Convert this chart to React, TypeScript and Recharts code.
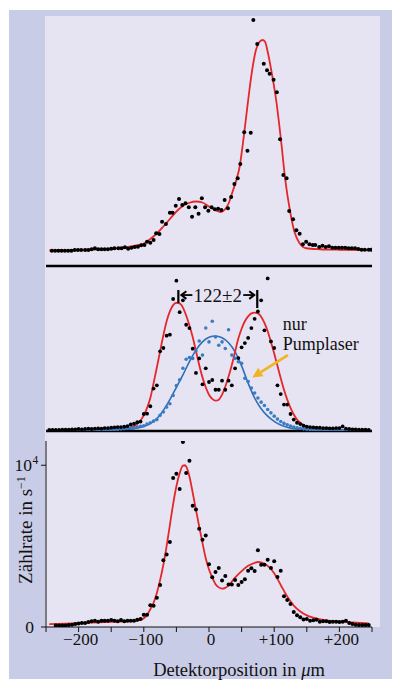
import React from 'react';
import { ComposedChart, Line, Scatter, XAxis, YAxis, ReferenceLine, Label } from 'recharts';

const FONT = '"Liberation Serif", "Times New Roman", serif';
const INK = '#111';
const RED = '#e5262a';
const BLUE = '#2f6fb8';
const BLUE_DOT = '#3a7cc4';
const ORANGE = '#f0b425';

// ---- upper panel (arbitrary units 0..100) ----
const TOP_DOT_X = [
  -241, -236, -231, -226, -221, -216, -211, -206, -201, -196, -190, -185, -180, -175, -170, -165,
  -160, -155, -150, -145, -139, -134, -129, -124, -119, -114, -109, -104, -99, -95, -90, -85,
  -81, -76, -72, -66, -60, -56, -51, -46, -41, -36, -31, -26, -21, -16, -11, -6,
  -1, 4, 9, 14, 19, 24, 29, 34, 39, 44, 48, 54, 59, 64, 68, 74,
  84, 89, 93, 99, 104, 109, 114, 119, 123, 129, 134, 139, 144, 149, 154, 159,
  163, 169, 174, 179, 184, 189, 194, 199, 204, 209, 214, 219, 224, 229, 234, 239, 245, 249,
];
const TOP_DOT_Y = [
  6.1, 6.1, 6.1, 6.1, 6.1, 6.1, 6.1, 6.4, 6.4, 6.4, 6.4, 6.4, 6.7, 7.1, 6.7, 6.7,
  6.7, 6.7, 6.9, 7.1, 7.1, 7.1, 7.5, 6.9, 7.3, 7.6, 7.7, 8.3, 8.4, 9.7, 9.3, 10.4,
  13.1, 12.8, 17.7, 16.8, 21.3, 21.3, 24.1, 26.8, 24.4, 25.1, 23.5, 19.7, 23.5, 20.9, 27.1, 23.5,
  22.1, 23.5, 22.7, 22.9, 22.4, 26.4, 23.1, 27.6, 32.8, 35.1, 40.8, 53.5, 46.1, 53.3, 98.4, 88.8,
  80.9, 78.3, 76.9, 74.5, 69.5, 50.7, 36.4, 35.1, 22.0, 18.7, 14.3, 12.9, 8.7, 9.7, 8.7, 8.4,
  8.4, 7.6, 8.1, 7.6, 7.9, 7.3, 7.3, 7.3, 7.3, 7.3, 7.1, 7.1, 7.1, 6.8, 6.5, 6.5, 6.5, 6.5,
];
const TOP_FIT_X = [
  -245, -200, -160, -130, -110, -100, -90, -80, -70, -60, -50, -40, -30, -20, -10, 0, 10, 18, 25, 30,
  37, 42, 47, 52, 57, 62, 67, 72, 77, 82, 86, 90, 95, 103, 111, 117, 124, 131, 139, 149, 170, 200, 249,
];
const TOP_FIT_Y = [
  6.2, 6.4, 6.8, 7.4, 8.3, 9.0, 10.8, 13.0, 15.8, 18.8, 21.8, 24.0, 25.3, 25.8, 25.4, 23.8, 22.3, 21.6, 22.8, 25.0,
  30.4, 34.4, 39.7, 49.0, 59.7, 70.4, 79.7, 86.4, 89.5, 90.4, 89.7, 85.7, 79.0, 66.4, 49.0, 34.4, 22.4, 13.7, 9.1, 7.1, 6.7, 6.5, 6.4,
];

// ---- middle panel (arbitrary units 0..100), detector steps of 5 µm from -245 ----
const MID_START = -245;
const MID_STEP = 5;
const MID_BOTH = [
  0.6, 0.6, 0.6, 0.6, 0.8, 0.8, 0.8, 1.0, 1.0, 1.2, 1.0, 1.2, 1.4, 1.2, 1.4, 1.6, 1.4, 1.8, 1.8, 2.0,
  2.2, 2.4, 2.4, 2.6, 3.0, 4.0, 4.4, 5.3, 5.7, 10.3, 10.5, 15, 25.7, 27.7, 48.3, 50.3, 57.8, 58.4, 80, 91.1,
  72, 79.2, 64.4, 62.4, 49.9, 35.2, 44, 28.3, 38, 29.7, 30.9, 25, 25, 30.5, 25, 30.5, 27.7, 38, 44.2, 50.7,
  53.3, 56.4, 62.4, 68, 72.5, 79.2, 61, 92.5, 54.3, 50.3, 27.7, 22.4, 16, 16, 10.3, 6.9, 5, 4.2, 3.2, 2.6,
  2.4, 2.2, 2.0, 2.0, 1.8, 1.8, 1.6, 1.6, 1.8, 1.8, 2.8, 1.4, 1.2, 1.0, 1.0, 0.8, 0.8, 0.8, 0.6,
];
const MID_PUMP = [
  0.2, 0.2, 0.2, 0.2, 0.3, 0.3, 0.2, 0.3, 0.3, 0.3, 0.3, 0.4, 0.4, 0.4, 0.5, 0.5, 0.6, 0.6, 0.7, 0.8,
  0.9, 1.0, 1.2, 1.4, 1.6, 1.8, 2.0, 2.4, 2.8, 3.2, 4.2, 5.0, 6.0, 6.9, 9.5, 11.5, 14.5, 16.5, 21.5, 27.5,
  31, 38, 43.5, 44.5, 44, 48.5, 54.5, 46, 62.4, 54, 66.5, 57, 52, 54, 50, 61.4, 46, 44, 42, 41,
  32, 30, 26, 23, 20, 17.5, 15.5, 13, 11, 9, 7.2, 5.8, 4.6, 3.8, 3.0, 2.4, 2.0, 1.6, 1.3, 1.1,
  0.9, 0.8, 0.7, 0.6, 0.5, 0.5, 0.4, 0.4, 0.4, 0.3, 0.3, 0.3, 0.3, 0.2, 0.2, 0.2, 0.2, 0.2, 0.2,
];
const MID_FIT_X = [
  -245, -200, -160, -140, -130, -120, -110, -100, -95, -90, -85, -80, -75, -70, -65, -60, -55, -50, -45, -40,
  -35, -30, -25, -20, -15, -10, -5, 0, 5, 10, 15, 20, 25, 30, 35, 40, 45, 50, 55, 60,
  65, 70, 75, 80, 85, 90, 95, 100, 105, 110, 115, 120, 125, 130, 135, 140, 150, 160, 175, 200, 245,
];
const MID_FIT_Y = [
  0.4, 0.5, 0.6, 0.8, 1.2, 2.2, 4.2, 9.5, 14, 20, 29, 38.5, 48.3, 58, 66.5, 72.5, 76.3, 77.6, 77.3, 74.8,
  70, 64, 57, 48.5, 40, 32.5, 26.5, 22, 19.5, 18.4, 19, 22, 27, 33, 40, 48, 56, 62, 66.5, 69.5,
  71.3, 71.8, 71.3, 69.3, 65.5, 60.5, 54, 47, 39.5, 32, 25, 19, 14, 10, 7, 5, 2.6, 1.5, 0.9, 0.6, 0.4,
];
const PUMP_FIT_X = [
  -245, -160, -130, -110, -100, -90, -80, -70, -60, -50, -40, -30, -20, -10, 0, 10, 20, 30, 40, 50,
  60, 70, 80, 90, 100, 110, 120, 140, 170, 245,
];
const PUMP_FIT_Y = [
  0.2, 0.3, 0.8, 1.8, 2.8, 4.5, 7.5, 12.5, 19, 26.5, 34, 42, 49, 54, 56.8, 57.6, 56.5, 53.5, 48, 39.5,
  29, 20, 13.5, 9, 5.8, 3.6, 2.3, 1.0, 0.4, 0.2,
];
const PEAK_LEFT = -47;
const PEAK_RIGHT = 74;
const SPACING_LABEL = '122±2';

// ---- lower panel (counts per second), detector steps of 5 µm from -235 ----
const BOT_START = -235;
const BOT_STEP = 5;
const BOT_RATE = [
  100, 100, 100, 100, 120, 140, 190, 210, 250, 250, 310, 350, 390, 330, 390, 390, 390, 430, 390, 350,
  430, 350, 390, 390, 390, 450, 500, 760, 760, 1340, 1320, 1810, 2600, 4120, 4490, 5260, 9210, 9480, 8530, 11440,
  9520, 10280, 7500, 7260, 6080, 5400, 5650, 3880, 3070, 3400, 3650, 2870, 3150, 2620, 2620, 2910, 2600, 2780, 2950, 3480,
  3630, 3460, 4740, 3850, 3850, 4160, 3650, 4060, 3090, 3480, 1900, 1670, 1420, 930, 720, 600, 470, 500, 390, 410,
  450, 330, 350, 350, 310, 330, 330, 310, 330, 390, 250, 190, 140, 120, 120, 120, 120,
];
const BOT_FIT_X = [
  -245, -220, -200, -180, -160, -140, -120, -110, -105, -100, -95, -90, -85, -80, -75, -70, -65, -60, -55, -50,
  -45, -40, -37, -35, -30, -25, -20, -15, -10, -5, 0, 5, 10, 15, 20, 25, 30, 40, 50, 60,
  70, 75, 80, 90, 100, 110, 120, 130, 140, 150, 160, 180, 200, 220, 245,
];
const BOT_FIT_Y = [
  180, 210, 240, 270, 300, 330, 360, 400, 440, 540, 750, 1100, 1500, 2100, 2900, 3850, 5000, 6300, 7600, 8700,
  9500, 9980, 10000, 9920, 9300, 8300, 7250, 6200, 5200, 4250, 3550, 3050, 2650, 2450, 2370, 2420, 2580, 3050, 3450, 3780,
  3970, 4020, 3990, 3780, 3320, 2600, 1880, 1320, 960, 720, 580, 410, 330, 280, 230,
];

const X_TICKS = [-250, -200, -150, -100, -50, 0, 50, 100, 150, 200, 250];
const X_LABELS: Record<string, string> = { '-200': '−200', '-100': '−100', '0': '0', '100': '+100', '200': '+200' };
const Y_TICKS = [0, 10000];

const pairs = (xs: number[], ys: number[]) => xs.map((x, i) => ({ x, y: ys[i] }));
const onGrid = (start: number, step: number, ys: number[]) => ys.map((y, i) => ({ x: start + i * step, y }));

const topDots = pairs(TOP_DOT_X, TOP_DOT_Y);
const topFit = pairs(TOP_FIT_X, TOP_FIT_Y);
const midBoth = onGrid(MID_START, MID_STEP, MID_BOTH);
const midPump = onGrid(MID_START, MID_STEP, MID_PUMP);
const midFit = pairs(MID_FIT_X, MID_FIT_Y);
const pumpFit = pairs(PUMP_FIT_X, PUMP_FIT_Y);
const botDots = onGrid(BOT_START, BOT_STEP, BOT_RATE);
const botFit = pairs(BOT_FIT_X, BOT_FIT_Y);

const dot = (r: number, fill: string) => (p: any) => <circle cx={p.cx} cy={p.cy} r={r} fill={fill} />;

const W = 396;
const MARGIN_X = { left: 46, right: 24 };

// |<- 122±2 ->| marker between the two peaks
const SpacingMark = (p: any) => {
  const { x1, x2, y1: y } = p;
  const mid = (x1 + x2) / 2;
  return (
    <g>
      <line x1={x1} x2={x1} y1={y - 5} y2={y + 8} stroke="#000" strokeWidth={2.2} />
      <line x1={x2} x2={x2} y1={y - 5} y2={y + 13} stroke="#000" strokeWidth={2.2} />
      <line x1={x1 + 3} x2={x1 + 14} y1={y} y2={y} stroke="#000" strokeWidth={1.8} />
      <polyline points={`${x1 + 8},${y - 3.8} ${x1 + 3},${y} ${x1 + 8},${y + 3.8}`} fill="none" stroke="#000" strokeWidth={2} />
      <line x1={x2 - 14} x2={x2 - 3} y1={y} y2={y} stroke="#000" strokeWidth={1.8} />
      <polyline points={`${x2 - 8},${y - 3.8} ${x2 - 3},${y} ${x2 - 8},${y + 3.8}`} fill="none" stroke="#000" strokeWidth={2} />
      <text x={mid} y={y + 6.5} textAnchor="middle" fontFamily={FONT} fontSize={19} fill={INK}>{SPACING_LABEL}</text>
    </g>
  );
};

const PumpArrow = (p: any) => {
  const { x1, y1, x2, y2 } = p;
  const dx = x2 - x1;
  const dy = y2 - y1;
  const len = Math.hypot(dx, dy);
  const ux = dx / len;
  const uy = dy / len;
  const bx = x2 - ux * 10;
  const by = y2 - uy * 10;
  return (
    <g>
      <line x1={x1} y1={y1} x2={bx} y2={by} stroke={ORANGE} strokeWidth={2.8} />
      <polygon points={`${x2},${y2} ${bx - uy * 5},${by + ux * 5} ${bx + uy * 5},${by - ux * 5}`} fill={ORANGE} />
    </g>
  );
};

const PumpNote = (p: any) => (
  <g fontFamily={FONT} fontSize={18} fill={INK}>
    <text x={p.x1} y={p.y1}>nur</text>
    <text x={p.x1} y={p.y1 + 20}>Pumplaser</text>
  </g>
);

const XTick = (p: any) => {
  const label = X_LABELS[String(p.payload.value)];
  if (!label) return null;
  return (
    <text x={p.x + 2} y={p.y + 11} textAnchor="middle" fontFamily={FONT} fontSize={17} fill={INK}>{label}</text>
  );
};

const YTick = (p: any) => {
  if (p.payload.value === 0) {
    return <text x={p.x - 5} y={p.y + 6} textAnchor="end" fontFamily={FONT} fontSize={17.5} fill={INK}>0</text>;
  }
  return (
    <text x={p.x - 7} y={p.y + 6} textAnchor="end" fontFamily={FONT} fontSize={17.5} fill={INK}>
      10
      <tspan x={p.x - 6.5} dy={-7.5} fontSize={11.5} textAnchor="start">4</tspan>
    </text>
  );
};

const XTitle = (p: any) => {
  const vb = p.viewBox;
  return (
    <text x={vb.x + 193} y={vb.y + 49} textAnchor="middle" fontFamily={FONT} fontSize={18.5} fill={INK}>
      Detektorposition in <tspan fontStyle="italic">μ</tspan>m
    </text>
  );
};

const YTitle = (p: any) => {
  const vb = p.viewBox;
  const cx = 32;
  const cy = vb.y + 89;
  return (
    <text transform={`translate(${cx},${cy}) rotate(-90)`} textAnchor="middle" fontFamily={FONT} fontSize={19} fill={INK}>
      Zählrate in s<tspan dy={-7} fontSize={12}>−1</tspan>
    </text>
  );
};

export default function App() {
  return (
    <div style={{ position: 'absolute', left: 0, top: 0, width: W, height: 685, background: '#fff' }}>
      <div style={{ position: 'absolute', left: 9, top: 10, width: 383, height: 669, background: '#c9cce6' }} />
      <div style={{ position: 'absolute', left: 45, top: 16, width: 335, height: 611, background: '#e6e4f2' }} />

      {/* upper panel */}
      <div style={{ position: 'absolute', left: 0, top: 16 }}>
        <ComposedChart width={W} height={250} margin={{ top: 0, bottom: 0, ...MARGIN_X }}>
          <XAxis type="number" dataKey="x" domain={[-250, 250]} allowDataOverflow hide />
          <YAxis type="number" dataKey="y" domain={[0, 100]} allowDataOverflow hide />
          <Line data={topFit} dataKey="y" type="monotone" stroke={RED} strokeWidth={1.8} dot={false} isAnimationActive={false} />
          <Scatter data={topDots} dataKey="y" shape={dot(2, '#000')} isAnimationActive={false} />
        </ComposedChart>
      </div>

      {/* middle panel: both lasers + pump laser only */}
      <div style={{ position: 'absolute', left: 0, top: 262 }}>
        <ComposedChart width={W} height={173} margin={{ top: 4, bottom: 4, ...MARGIN_X }}>
          <XAxis type="number" dataKey="x" domain={[-250, 250]} allowDataOverflow hide />
          <YAxis type="number" dataKey="y" domain={[0, 100]} allowDataOverflow hide />
          <ReferenceLine y={100} stroke="#000" strokeWidth={2.5} />
          <Line data={pumpFit} dataKey="y" type="monotone" stroke={BLUE} strokeWidth={1.6} dot={false} isAnimationActive={false} />
          <Line data={midFit} dataKey="y" type="monotone" stroke={RED} strokeWidth={1.8} dot={false} isAnimationActive={false} />
          <Scatter data={midPump} dataKey="y" shape={dot(1.8, BLUE_DOT)} isAnimationActive={false} />
          <Scatter data={midBoth} dataKey="y" shape={dot(1.9, '#000')} isAnimationActive={false} />
          <ReferenceLine y={0} stroke="#000" strokeWidth={2.5} />
          <ReferenceLine segment={[{ x: PEAK_LEFT, y: 82.4 }, { x: PEAK_RIGHT, y: 82.4 }]} shape={SpacingMark} />
          <ReferenceLine segment={[{ x: 121, y: 46 }, { x: 66.5, y: 32.5 }]} shape={PumpArrow} />
          <ReferenceLine segment={[{ x: 113, y: 61.2 }, { x: 113, y: 61.2 }]} shape={PumpNote} />
        </ComposedChart>
      </div>

      {/* lower panel: counts */}
      <div style={{ position: 'absolute', left: 0, top: 430 }}>
        <ComposedChart width={W} height={255} margin={{ top: 11, bottom: 0, left: 0, right: 24 }}>
          <XAxis
            type="number" dataKey="x" domain={[-250, 250]} allowDataOverflow ticks={X_TICKS} interval={0}
            height={58} tickSize={5} axisLine={{ stroke: INK }} tickLine={{ stroke: INK }} tick={XTick}
          >
            <Label content={XTitle} />
          </XAxis>
          <YAxis
            type="number" dataKey="y" domain={[0, 11500]} allowDataOverflow ticks={Y_TICKS} interval={0}
            width={46} tickSize={5} axisLine={{ stroke: INK }} tickLine={{ stroke: INK }} tick={YTick}
          >
            <Label content={YTitle} />
          </YAxis>
          <Line data={botFit} dataKey="y" type="monotone" stroke={RED} strokeWidth={1.8} dot={false} isAnimationActive={false} />
          <Scatter data={botDots} dataKey="y" shape={dot(2, '#000')} isAnimationActive={false} />
        </ComposedChart>
      </div>
    </div>
  );
}
